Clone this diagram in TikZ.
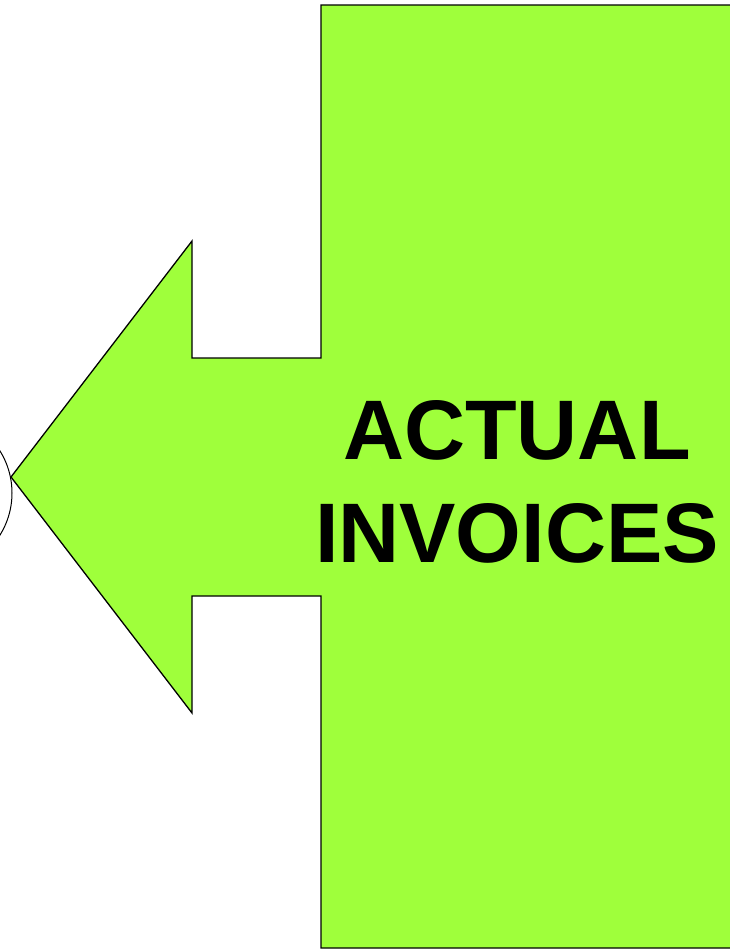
\documentclass[tikz,border=0pt]{standalone}
\usepackage{fontspec}
\setmainfont{Liberation Sans}
\definecolor{lime}{RGB}{159,255,59}
\begin{document}
\begin{tikzpicture}[x=1pt,y=-1pt,
  shapeline/.style={draw=black,line width=1.3pt,fill=lime,line join=miter},
  label/.style={font=\fontsize{84.5}{100}\selectfont\bfseries,align=center,inner sep=0pt}]
\useasboundingbox (0,0) rectangle (729,951);
\draw[line width=1pt] (-67.5,493) circle (79.5);
\draw[shapeline] (321,5) -- (740,5) -- (740,948) -- (321,948) -- (321,596) -- (192,596) -- (192,713) -- (11,477) -- (192,241) -- (192,358) -- (321,358) -- cycle;
\node[label,anchor=base] (t1) at (517,459) {ACTUAL};
\node[label,anchor=base] (t2) at (517,562) {INVOICES};
\end{tikzpicture}
\end{document}
